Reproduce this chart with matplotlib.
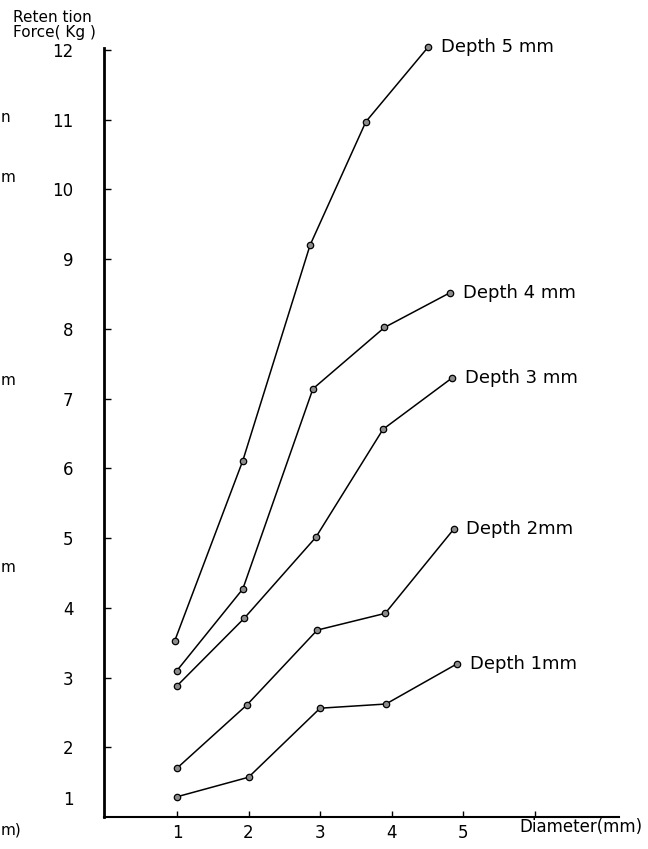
import numpy as np
import matplotlib
matplotlib.use("Agg")
import matplotlib.pyplot as plt

# valores
series_names = ["Depth 1mm", "Depth 2mm", "Depth 3 mm", "Depth 4 mm", "Depth 5 mm"]
diam_1mm = [1.0, 2.0, 3.0, 3.92, 4.92]
force_1mm = [1.29, 1.57, 2.56, 2.62, 3.20]
diam_2mm = [1.0, 1.98, 2.96, 3.91, 4.87]
force_2mm = [1.70, 2.61, 3.68, 3.92, 5.13]
diam_3mm = [1.0, 1.94, 2.94, 3.88, 4.85]
force_3mm = [2.88, 3.85, 5.01, 6.56, 7.30]
diam_4mm = [1.0, 1.92, 2.90, 3.90, 4.82]
force_4mm = [3.10, 4.27, 7.14, 8.02, 8.52]
diam_5mm = [0.97, 1.92, 2.86, 3.64, 4.51]
force_5mm = [3.53, 6.11, 9.20, 10.97, 12.04]

x_ticks = [1, 2, 3, 4, 5, 6]
x_ticklabels = ["1", "2", "3", "4", "5", ""]
y_ticks = [2, 3, 4, 5, 6, 7, 8, 9, 10, 11, 12, 1.27]
y_ticklabels = ["2", "3", "4", "5", "6", "7", "8", "9", "10", "11", "12", "1"]

diams = [diam_1mm, diam_2mm, diam_3mm, diam_4mm, diam_5mm]
forces = [force_1mm, force_2mm, force_3mm, force_4mm, force_5mm]

fig = plt.figure(figsize=(6.48, 8.49), dpi=100)
ax = fig.add_axes([0.1605, 0.0377, 0.795, 0.906])

for name, xs, ys in zip(series_names, diams, forces):
    ax.plot(xs, ys, color="black", linewidth=1.1, marker="o", markersize=4.6,
            markerfacecolor="#8c8c8c", markeredgecolor="black", markeredgewidth=0.9,
            clip_on=False)
    ax.annotate(name, xy=(xs[-1], ys[-1]), xytext=(9, 0), textcoords="offset points",
                fontsize=13, va="center", ha="left", annotation_clip=False)

ax.set_xlim(-0.02, 7.18)
ax.set_ylim(1, 12.03)

ax.set_xticks(x_ticks)
ax.set_xticklabels(x_ticklabels, fontsize=12)
ax.set_yticks(y_ticks)
ax.set_yticklabels(y_ticklabels, fontsize=12)
ax.tick_params(axis="x", direction="in", length=4, width=1, pad=5)
ax.tick_params(axis="y", direction="in", length=5, width=1, pad=22)
ax.yaxis.get_major_ticks()[-1].tick1line.set_visible(False)

for s in ["top", "right"]:
    ax.spines[s].set_visible(False)
ax.spines["left"].set_linewidth(2.0)
ax.spines["bottom"].set_linewidth(1.5)

ax.text(5.78, 0.86, "Diameter(mm)", fontsize=12, ha="left", va="center")
fig.text(0.02, 1 - 17 / 849, "Reten tion", fontsize=11, ha="left", va="center")
fig.text(0.02, 1 - 33 / 849, "Force( Kg )", fontsize=11, ha="left", va="center")

# trozos de texto del borde izquierdo del escaneo
for frag, ypix in [("n", 117), ("m", 177), ("m", 380), ("m", 568), ("m)", 830)]:
    fig.text(0.001, 1 - ypix / 849, frag, fontsize=11, ha="left", va="center")

fig.savefig("out.png", dpi=100)
